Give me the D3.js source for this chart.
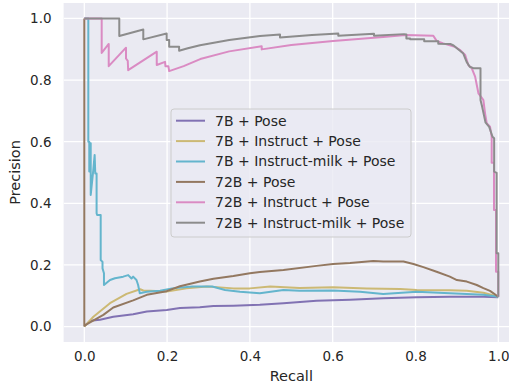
<!DOCTYPE html>
<html>
<head>
<meta charset="utf-8">
<script src="https://cdn.jsdelivr.net/npm/d3@7"></script>
<style>
  body { margin: 0; background: #fff; }
  text { font-family: "DejaVu Sans", sans-serif; fill: #262626; }
</style>
</head>
<body>
<script>
(function(){

    //tick values
    var xTicks = [0, 0.2, 0.4, 0.6, 0.8, 1.0],
        yTicks = [0, 0.2, 0.4, 0.6, 0.8, 1.0];

    //series names, in legend order
    var seriesNames = ["7B + Pose", "7B + Instruct + Pose", "7B + Instruct-milk + Pose",
        "72B + Pose", "72B + Instruct + Pose", "72B + Instruct-milk + Pose"];
    var seriesColors = ["#8172B3", "#CCB974", "#64B5CD", "#937860", "#DA8BC3", "#8C8C8C"];

    //[recall, precision] pairs
    var pr7bPose = [[0,0],[0.014,0.019],[0.038,0.022],[0.07,0.032],[0.118,0.040],[0.151,0.049],
        [0.199,0.054],[0.231,0.060],[0.279,0.063],[0.312,0.067],[0.36,0.068],[0.424,0.071],
        [0.481,0.076],[0.561,0.084],[0.642,0.087],[0.722,0.092],[0.803,0.095],[0.883,0.097],
        [0.964,0.097],[1.0,0.095]];

    var pr7bInstruct = [[0,0],[0.022,0.032],[0.062,0.076],[0.102,0.106],[0.135,0.121],[0.1425,0.117],
        [0.159,0.116],[0.199,0.114],[0.247,0.124],[0.296,0.130],[0.36,0.124],[0.40,0.124],
        [0.449,0.130],[0.52,0.125],[0.601,0.128],[0.682,0.124],[0.763,0.122],[0.803,0.119],
        [0.883,0.118],[0.924,0.116],[0.964,0.110],[1.0,0.097]];

    var pr7bMilk = [[0,1],[0.0097,1],[0.0097,0.600],[0.012,0.600],[0.012,0.503],[0.0155,0.595],
        [0.0155,0.427],[0.0217,0.508],[0.025,0.557],[0.0265,0.497],[0.0297,0.497],[0.0297,0.368],
        [0.031,0.362],[0.0396,0.362],[0.0396,0.216],[0.044,0.210],[0.044,0.189],[0.0475,0.173],
        [0.0475,0.135],[0.0621,0.151],[0.074,0.157],[0.094,0.162],[0.106,0.167],[0.114,0.156],
        [0.118,0.162],[0.126,0.151],[0.130,0.135],[0.134,0.108],[0.151,0.113],[0.183,0.116],
        [0.212,0.124],[0.261,0.130],[0.309,0.130],[0.34,0.119],[0.376,0.113],[0.424,0.108],
        [0.481,0.119],[0.52,0.116],[0.601,0.117],[0.666,0.113],[0.722,0.106],[0.803,0.113],
        [0.883,0.108],[0.964,0.103],[1.0,0.097]];

    var pr72bPose = [[0,1],[0,0.003],[0.046,0.038],[0.07,0.062],[0.118,0.085],[0.151,0.103],
        [0.199,0.115],[0.231,0.131],[0.279,0.146],[0.312,0.155],[0.36,0.164],[0.40,0.173],
        [0.424,0.177],[0.481,0.184],[0.561,0.197],[0.601,0.203],[0.642,0.206],[0.698,0.213],
        [0.722,0.211],[0.771,0.211],[0.795,0.203],[0.819,0.193],[0.851,0.178],[0.883,0.162],
        [0.900,0.151],[0.924,0.146],[0.948,0.135],[0.964,0.125],[0.980,0.116],[1.0,0.097]];

    var pr72bInstruct = [[0,1],[0.042,1],[0.042,0.888],[0.059,0.917],[0.059,0.845],[0.1007,0.905],
        [0.1007,0.870],[0.105,0.862],[0.106,0.832],[0.175,0.892],[0.175,0.849],[0.195,0.859],
        [0.196,0.845],[0.203,0.845],[0.205,0.829],[0.24,0.845],[0.28,0.868],[0.35,0.893],
        [0.4285,0.910],[0.4285,0.8995],[0.5,0.914],[0.601,0.927],[0.722,0.940],[0.776,0.946],
        [0.843,0.944],[0.851,0.927],[0.867,0.919],[0.895,0.908],[0.908,0.897],[0.920,0.881],
        [0.9275,0.849],[0.936,0.838],[0.944,0.811],[0.948,0.784],[0.952,0.757],[0.958,0.746],
        [0.964,0.735],[0.968,0.692],[0.972,0.660],[0.980,0.649],[0.984,0.616],[0.984,0.532],
        [0.9896,0.532],[0.9896,0.378],[0.9945,0.378],[0.9945,0.178],[1.0,0.178],[1.0,0.097]];

    var pr72bMilk = [[0,1],[0.0845,1],[0.0845,0.943],[0.1425,0.964],[0.1425,0.932],[0.199,0.951],
        [0.199,0.930],[0.205,0.930],[0.205,0.908],[0.229,0.908],[0.229,0.895],[0.25,0.903],
        [0.2795,0.913],[0.35,0.930],[0.4244,0.943],[0.4727,0.948],[0.4727,0.938],[0.55,0.946],
        [0.6135,0.951],[0.6135,0.944],[0.6998,0.950],[0.6998,0.944],[0.772,0.949],[0.778,0.948],
        [0.778,0.935],[0.787,0.935],[0.787,0.932],[0.821,0.932],[0.821,0.926],[0.855,0.926],
        [0.855,0.918],[0.884,0.917],[0.892,0.912],[0.9155,0.886],[0.9235,0.859],[0.931,0.843],
        [0.941,0.838],[0.957,0.838],[0.957,0.735],[0.961,0.713],[0.969,0.663],[0.978,0.648],
        [0.986,0.616],[0.990,0.611],[0.990,0.503],[0.996,0.499],[0.996,0.238],[1.0,0.238],
        [1.0,0.097]];

    var seriesData = [pr7bPose, pr7bInstruct, pr7bMilk, pr72bPose, pr72bInstruct, pr72bMilk];

    //frame dimensions
    var width = 509,
        height = 385,
        plotLeft = 63.6,
        plotRight = 519,
        plotTop = 3,
        plotBottom = 342;

    var svg = d3.select("body")
        .append("svg")
        .attr("width", width)
        .attr("height", height);

    var x = d3.scaleLinear().domain([-0.05, 1.05]).range([plotLeft, plotRight]);
    var y = d3.scaleLinear().domain([-0.05, 1.05]).range([plotBottom, plotTop]);

    svg.append("clipPath").attr("id", "plotClip")
        .append("rect")
        .attr("x", plotLeft).attr("y", plotTop)
        .attr("width", plotRight - plotLeft).attr("height", plotBottom - plotTop);

    //background
    svg.append("rect")
        .attr("x", plotLeft).attr("y", plotTop)
        .attr("width", plotRight - plotLeft).attr("height", plotBottom - plotTop)
        .attr("fill", "#EAEAF2");

    //grid
    var grid = svg.append("g").attr("clip-path", "url(#plotClip)");
    grid.selectAll(".vgrid").data(xTicks).enter().append("line")
        .attr("x1", function(d){ return x(d); }).attr("x2", function(d){ return x(d); })
        .attr("y1", plotTop).attr("y2", plotBottom)
        .attr("stroke", "#fff").attr("stroke-width", 1.3);
    grid.selectAll(".hgrid").data(yTicks).enter().append("line")
        .attr("y1", function(d){ return y(d); }).attr("y2", function(d){ return y(d); })
        .attr("x1", plotLeft).attr("x2", plotRight)
        .attr("stroke", "#fff").attr("stroke-width", 1.3);

    //axes, no domain or tick lines (seaborn darkgrid look)
    var xAxis = svg.append("g")
        .attr("transform", "translate(0," + plotBottom + ")")
        .call(d3.axisBottom(x).tickValues(xTicks).tickFormat(d3.format(".1f")).tickSize(0).tickPadding(9));
    var yAxis = svg.append("g")
        .attr("transform", "translate(" + plotLeft + ",0)")
        .call(d3.axisLeft(y).tickValues(yTicks).tickFormat(d3.format(".1f")).tickSize(0).tickPadding(9));
    svg.selectAll(".domain").remove();
    svg.selectAll(".tick text")
        .style("font-family", "DejaVu Sans")
        .style("font-size", "13.5px")
        .attr("fill", "#262626");
    yAxis.selectAll(".tick text").attr("dx", "-3");
    xAxis.selectAll(".tick text").attr("dy", "0.71em");

    //axis labels
    svg.append("text")
        .attr("x", (plotLeft + plotRight) / 2)
        .attr("y", 381)
        .attr("text-anchor", "middle")
        .style("font-size", "14.5px")
        .text("Recall");
    svg.append("text")
        .attr("transform", "translate(20," + ((plotTop + plotBottom) / 2) + ")rotate(-90)")
        .attr("text-anchor", "middle")
        .style("font-size", "14.5px")
        .text("Precision");

    //curves
    var line = d3.line()
        .x(function(d){ return x(d[0]); })
        .y(function(d){ return y(d[1]); });

    svg.append("g").attr("clip-path", "url(#plotClip)")
        .selectAll(".curve")
        .data(seriesData)
        .enter()
        .append("path")
        .attr("class", "curve")
        .attr("d", line)
        .attr("fill", "none")
        .attr("stroke", function(d, i){ return seriesColors[i]; })
        .attr("stroke-width", 2)
        .attr("stroke-linejoin", "round");

    //legend
    var legend = svg.append("g").attr("transform", "translate(171,109)");
    legend.append("rect")
        .attr("width", 240).attr("height", 128)
        .attr("rx", 3)
        .attr("fill", "#EAEAF2").attr("fill-opacity", 0.8)
        .attr("stroke", "#cccccc").attr("stroke-width", 1);
    var rows = legend.selectAll(".row")
        .data(seriesNames)
        .enter()
        .append("g")
        .attr("transform", function(d, i){ return "translate(0," + (11.7 + i * 20.4) + ")"; });
    rows.append("line")
        .attr("x1", 5).attr("x2", 34)
        .attr("stroke", function(d, i){ return seriesColors[i]; })
        .attr("stroke-width", 2);
    rows.append("text")
        .attr("x", 44)
        .attr("dy", "0.35em")
        .style("font-size", "14px")
        .text(function(d){ return d; });

})();
</script>
</body>
</html>
